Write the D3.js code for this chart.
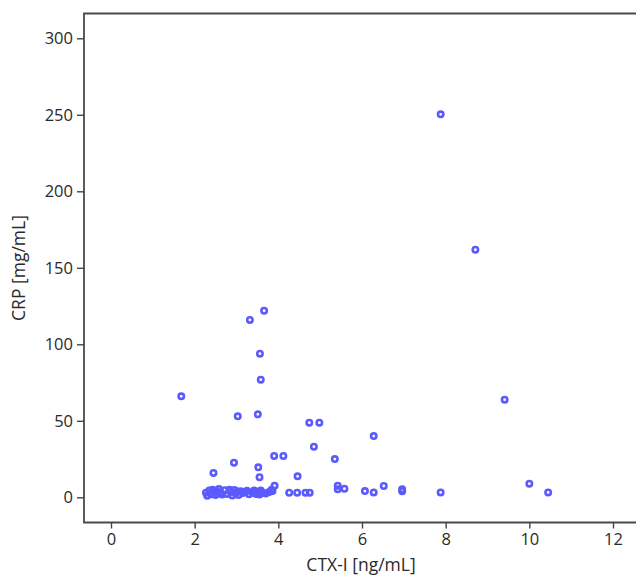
<!DOCTYPE html>
<html>
<head>
<meta charset="utf-8">
<script src="https://cdn.jsdelivr.net/npm/d3@7"></script>
<style>
  body { margin: 0; background: #fff; }
  text { font-family: 'Open Sans', 'Noto Sans', sans-serif; }
</style>
</head>
<body>
<script>
// CTX-I vs CRP scatter

var ctx = [7.88, 8.71, 9.41, 1.68, 3.03, 3.51, 3.32, 3.66, 3.56, 3.58, 4.74, 4.98, 4.85, 5.35, 6.28,
  3.90, 4.12, 2.94, 2.45, 3.52, 3.55, 4.46, 3.91, 3.86, 4.26, 4.45, 4.65, 4.75,
  5.42, 5.42, 5.58, 6.07, 6.28, 6.52, 6.96, 6.96, 7.88, 10.0, 10.45,
  2.27, 2.30, 2.35, 2.40, 2.43, 2.47, 2.50, 2.52, 2.55, 2.58, 2.62, 2.66, 2.72, 2.78,
  2.83, 2.86, 2.90, 2.95, 2.98, 3.02, 3.05, 3.10, 3.15, 3.20, 3.25, 3.30, 3.38, 3.42,
  3.47, 3.50, 3.55, 3.58, 3.62, 3.70, 3.78, 3.84];
var crp = [250.3, 161.8, 63.8, 66, 52.9, 54.2, 115.9, 122, 93.9, 76.9, 48.8, 48.8, 33.1, 25, 40,
  27, 27, 22.6, 15.9, 19.6, 13.1, 13.7, 7.6, 4.1, 3.0, 3.0, 3.0, 3.0,
  7.6, 5.2, 5.6, 4.1, 3.2, 7.4, 5.2, 4.0, 3.2, 8.9, 3.2,
  3.0, 1.0, 4.5, 2.0, 5.0, 3.2, 1.5, 4.2, 2.5, 5.5, 3.0, 1.8, 4.6, 2.2,
  5.0, 3.5, 1.2, 4.8, 2.6, 3.8, 1.5, 4.0, 2.8, 3.5, 4.2, 2.0, 3.0, 4.4,
  2.2, 3.6, 1.8, 4.5, 3.0, 2.5, 3.5, 5.0];

var xTicks = [0, 2, 4, 6, 8, 10, 12];
var yTicks = [0, 50, 100, 150, 200, 250, 300];

var width = 636, height = 576;
var frame = {left: 84, top: 13.5, bottom: 522.5};

var svg = d3.select("body").append("svg")
  .attr("width", width)
  .attr("height", height);

var xScale = d3.scaleLinear().domain([0, 12]).range([111, 613]);
var yScale = d3.scaleLinear().domain([0, 300]).range([497.3, 38.3]);

// frame (right side runs off the image)
svg.append("path")
  .attr("d", "M" + (width + 5) + "," + frame.top + "H" + frame.left + "V" + frame.bottom + "H" + (width + 5))
  .attr("fill", "none")
  .attr("stroke", "#4a4a4a")
  .attr("stroke-width", 1.8);

var yAxis = svg.append("g")
  .attr("transform", "translate(" + frame.left + ",0)")
  .call(d3.axisLeft(yScale).tickValues(yTicks).tickSize(7).tickPadding(4));

var xAxis = svg.append("g")
  .attr("transform", "translate(0," + frame.bottom + ")")
  .call(d3.axisBottom(xScale).tickValues(xTicks).tickSize(6).tickPadding(5));

[xAxis, yAxis].forEach(function(a) {
  a.select(".domain").remove();
  a.selectAll(".tick line").attr("stroke", "#444").attr("stroke-width", 1.4);
  a.selectAll(".tick text")
    .attr("font-family", "'Open Sans', sans-serif")
    .attr("font-size", 16.5)
    .attr("fill", "#2a2a2a");
});

svg.selectAll(".pt")
  .data(ctx)
  .enter().append("circle")
  .attr("class", "pt")
  .attr("cx", function(d) { return xScale(d); })
  .attr("cy", function(d, i) { return yScale(crp[i]); })
  .attr("r", 2.7)
  .attr("fill", "none")
  .attr("stroke", "#5a5aff")
  .attr("stroke-width", 2.6);

svg.append("text")
  .text("CTX-I [ng/mL]")
  .attr("x", 361)
  .attr("y", 571)
  .style("text-anchor", "middle")
  .attr("font-size", 17.5)
  .attr("fill", "#2a2a2a");

svg.append("text")
  .text("CRP [mg/mL]")
  .attr("transform", "translate(25,268) rotate(-90)")
  .style("text-anchor", "middle")
  .attr("font-size", 17.5)
  .attr("fill", "#2a2a2a");
</script>
</body>
</html>
